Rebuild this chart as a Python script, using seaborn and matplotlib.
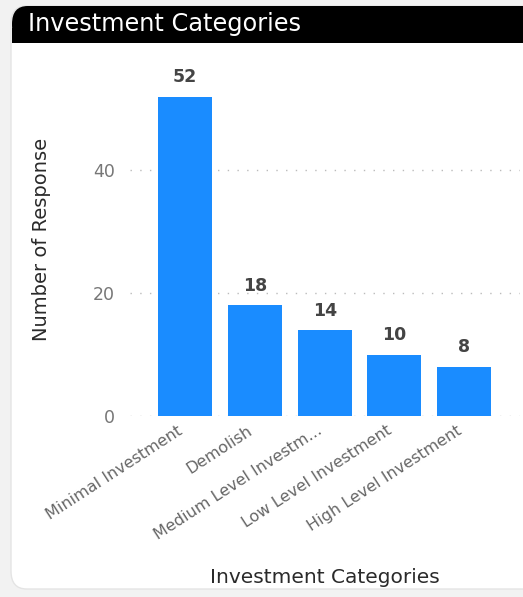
import numpy as np
import pandas as pd
import matplotlib
matplotlib.use('Agg')
import matplotlib.pyplot as plt
from matplotlib.patches import FancyBboxPatch
from matplotlib.transforms import ScaledTranslation
import seaborn as sns

# data
categories = ['Minimal Investment', 'Demolish', 'Medium Level Investm...',
              'Low Level Investment', 'High Level Investment']
responses = [52, 18, 14, 10, 8]
y_ticks = [0, 20, 40]

df = pd.DataFrame({'category': categories, 'count': responses})

sns.set_theme(style='white')
plt.rcParams['font.family'] = ['DejaVu Sans']

W, H = 523, 597
fig = plt.figure(figsize=(W / 100, H / 100), dpi=100)
fig.patch.set_facecolor('#f2f2f2')

# card background
card = FancyBboxPatch((11 / W, 8 / H), (W + 30 - 11) / W, (H - 8 - 6) / H,
                      boxstyle='round,pad=0,rounding_size=0.03',
                      transform=fig.transFigure, facecolor='white',
                      edgecolor='#e4e4e4', linewidth=1, zorder=-3)
fig.patches.append(card)

# black header band
hdr = FancyBboxPatch((12 / W, (H - 43) / H), (W + 30 - 12) / W, 37 / H,
                     boxstyle='round,pad=0,rounding_size=0.03',
                     transform=fig.transFigure, facecolor='black',
                     edgecolor='none', zorder=-2)
fig.patches.append(hdr)
fig.patches.append(plt.Rectangle((12 / W, (H - 43) / H), (W - 12) / W, 15 / H,
                                 transform=fig.transFigure, facecolor='black',
                                 edgecolor='none', zorder=-2))
fig.text(28 / W, (H - 24) / H, 'Investment Categories', color='white',
         fontsize=17.3, va='center', ha='left')

ax = fig.add_axes([130 / W, (H - 416) / H, 390 / W, 344 / H])
ax.set_facecolor('none')

sns.barplot(data=df, x='category', y='count', color='#1a8cff', width=0.775,
            saturation=1, linewidth=0, edgecolor='none', ax=ax, zorder=3)

for i, v in enumerate(responses):
    ax.text(i, v + 1.7, str(v), ha='center', va='bottom', fontsize=12.5,
            fontweight='bold', color='#444444')

ax.set_xlim(-0.79, 4.8)
ax.set_ylim(0, 56)
ax.set_yticks(y_ticks)
ax.yaxis.grid(True, linestyle=(0, (1, 6)), color='#bbbbbb', linewidth=1)
ax.set_axisbelow(True)
for s in ax.spines.values():
    s.set_visible(False)

ax.tick_params(axis='y', labelsize=12.5, labelcolor='#777777', length=0, pad=11)
ax.tick_params(axis='x', labelsize=11.5, labelcolor='#666666', length=0, pad=5)
shift = ScaledTranslation(-8 / 100, 0, fig.dpi_scale_trans)
for lbl in ax.get_xticklabels():
    lbl.set_rotation(33)
    lbl.set_ha('right')
    lbl.set_rotation_mode('anchor')
    lbl.set_transform(lbl.get_transform() + shift)

ax.set_xlabel('Investment Categories', fontsize=14.5, color='#2a2a2a')
ax.set_ylabel('Number of Response', fontsize=14, color='#2a2a2a')
ax.xaxis.set_label_coords((325 - 130) / 390, -(568 - 416) / 344)
ax.yaxis.set_label_coords(-(130 - 51) / 390, (416 - 239) / 344)

fig.savefig('out.png', dpi=100, facecolor=fig.get_facecolor())
